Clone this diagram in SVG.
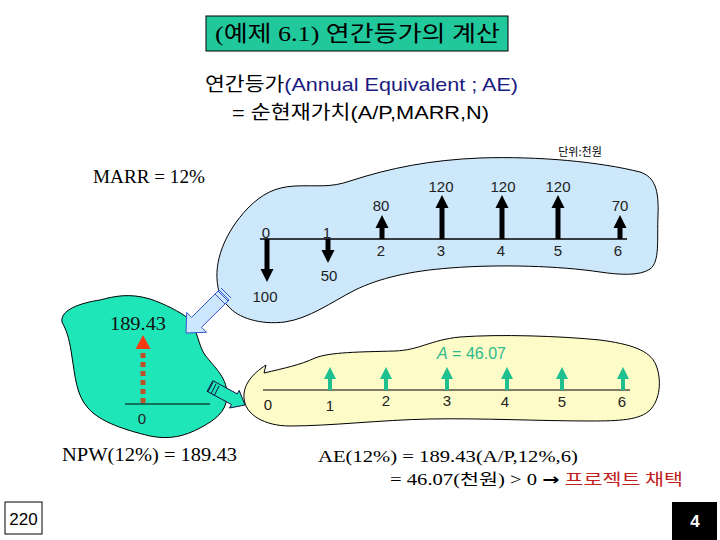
<svg xmlns="http://www.w3.org/2000/svg" width="720" height="540" viewBox="0 0 720 540">
<style>
.ser{font-family:"Liberation Serif","Noto Sans CJK KR",serif;}
.san{font-family:"Liberation Sans","Noto Sans CJK KR",sans-serif;}
.kr{font-family:"Noto Sans CJK KR",sans-serif;}
.num{font-family:"Liberation Sans","Noto Sans CJK KR",sans-serif;font-size:15px;fill:#222;text-anchor:middle;}
.blob{stroke:#000;stroke-width:1;}
.barr{fill:#000;}
.garr{fill:#1fbf8f;}
</style>
<rect width="720" height="540" fill="#fff"/>

<g id="title">
<rect x="206" y="16" width="302" height="35" fill="#20c89c" stroke="#000" stroke-width="1"/>
<text x="215" y="41" class="ser" font-size="22" textLength="285" lengthAdjust="spacingAndGlyphs" fill="#000">(예제 6.1) 연간등가의 계산</text>
</g>

<g id="subtitle">
<text x="205" y="91" font-size="19" textLength="313" lengthAdjust="spacingAndGlyphs"><tspan class="kr" fill="#000">연간등가</tspan><tspan class="san" fill="#1a1a80">(Annual Equivalent ; AE)</tspan></text>
<text x="232" y="119" font-size="19" textLength="257" lengthAdjust="spacingAndGlyphs" class="san" fill="#000">= <tspan class="kr">순현재가치</tspan>(A/P,MARR,N)</text>
</g>

<g id="unit"><text x="580" y="156" class="kr" font-size="11" text-anchor="middle" fill="#000">단위:천원</text></g>
<g id="marr"><text x="93" y="183" class="ser" font-size="18" textLength="112" lengthAdjust="spacingAndGlyphs" fill="#000">MARR = 12%</text></g>

<g id="cashflow">
<path class="blob" fill="#cde8fb" d="M218,287 C213,262 225,232 248,208 C262,194 275,187 295,186 C318,185 330,188 350,181 C390,168 430,160 480,158 C540,156 600,162 640,172 C655,177 659,190 658,215 C657,240 660,262 650,269 C640,276 620,275 600,272 C560,266 500,264 450,268 C410,271 380,278 355,290 C330,303 310,318 285,322 C260,325 238,318 228,306 C222,300 219,294 218,287 Z"/>
<line x1="260" y1="239" x2="627" y2="239" stroke="#000" stroke-width="1.5"/>
<rect class="barr" x="264.5" y="239" width="5" height="31"/><polygon class="barr" points="260.5,269 273.5,269 267,282"/>
<rect class="barr" x="325.5" y="239" width="5" height="12"/><polygon class="barr" points="321.5,250 334.5,250 328,263"/>
<rect class="barr" x="379.5" y="227" width="5" height="12"/><polygon class="barr" points="375.5,228 388.5,228 382,215"/>
<rect class="barr" x="439.5" y="207" width="5" height="32"/><polygon class="barr" points="435.5,208 448.5,208 442,195"/>
<rect class="barr" x="499.5" y="207" width="5" height="32"/><polygon class="barr" points="495.5,208 508.5,208 502,195"/>
<rect class="barr" x="555.5" y="207" width="5" height="32"/><polygon class="barr" points="551.5,208 564.5,208 558,195"/>
<rect class="barr" x="617.5" y="227" width="5" height="12"/><polygon class="barr" points="613.5,228 626.5,228 620,215"/>
<text class="num" x="266" y="238">0</text>
<text class="num" x="327" y="238">1</text>
<text class="num" x="381" y="256">2</text>
<text class="num" x="441" y="256">3</text>
<text class="num" x="501" y="256">4</text>
<text class="num" x="558" y="256">5</text>
<text class="num" x="618" y="256">6</text>
<text class="num" x="265" y="302">100</text>
<text class="num" x="329" y="281">50</text>
<text class="num" x="381" y="211">80</text>
<text class="num" x="441" y="192">120</text>
<text class="num" x="503" y="192">120</text>
<text class="num" x="558" y="192">120</text>
<text class="num" x="620" y="211">70</text>
</g>

<g id="npw">
<path class="blob" fill="#1ee6b8" d="M62,322 C60,310 80,303 100,300 C115,296 130,293 150,299 C165,304 180,312 188,318 C198,330 198,345 205,355 C215,368 228,378 227,397 C226,412 215,420 200,428 C185,436 170,440 150,436 C125,430 100,422 88,408 C76,395 75,375 72,357 C70,343 68,333 62,322 Z"/>
<line x1="125" y1="404" x2="210" y2="404" stroke="#000" stroke-width="1"/>
<line x1="143" y1="403" x2="143" y2="349" stroke="#c0502a" stroke-width="5" stroke-dasharray="5,4"/>
<polygon points="135.5,349 150.5,349 143,335" fill="#f53a10"/>
<text class="ser" x="110" y="330" font-size="19" textLength="56" lengthAdjust="spacingAndGlyphs" fill="#111">189.43</text>
<text class="num" x="142" y="424">0</text>
</g>

<g id="annual">
<path class="blob" fill="#fdfbc8" d="M264,373 C285,368 300,365 315,358 C330,352 360,352 395,351 C420,350 430,340 460,337 C500,334 560,336 600,340 C630,344 650,350 656,365 C662,380 660,400 650,410 C640,420 620,421 590,421 C540,421 480,418 430,419 C380,420 330,426 290,426 C265,426 245,415 244,398 C243,385 252,374 266,365 Z"/>
<line x1="263" y1="390" x2="630" y2="390" stroke="#000" stroke-width="1.2"/>
<rect class="garr" x="328" y="378" width="4" height="12"/><polygon class="garr" points="324,379 336,379 330,367"/>
<rect class="garr" x="384" y="378" width="4" height="12"/><polygon class="garr" points="380,379 392,379 386,367"/>
<rect class="garr" x="445" y="378" width="4" height="12"/><polygon class="garr" points="441,379 453,379 447,367"/>
<rect class="garr" x="505" y="378" width="4" height="12"/><polygon class="garr" points="501,379 513,379 507,367"/>
<rect class="garr" x="560" y="378" width="4" height="12"/><polygon class="garr" points="556,379 568,379 562,367"/>
<rect class="garr" x="621" y="378" width="4" height="12"/><polygon class="garr" points="617,379 629,379 623,367"/>
<text class="num" x="268" y="410">0</text>
<text class="num" x="330" y="411">1</text>
<text class="num" x="386" y="406">2</text>
<text class="num" x="447" y="406">3</text>
<text class="num" x="505" y="407">4</text>
<text class="num" x="562" y="407">5</text>
<text class="num" x="622" y="407">6</text>
<text x="437" y="359" class="san" font-size="16" fill="#2db98a"><tspan font-style="italic">A</tspan> = 46.07</text>
</g>

<g id="connectors">
<polygon points="219,290 229,300 201.5,327.3 206.5,332.3 186,333 186.7,312.5 191.6,317.4" fill="#cce6ff" stroke="#3355cc" stroke-width="1"/>
<g stroke="#3355cc" stroke-width="1">
<line x1="215" y1="294" x2="225" y2="304"/>
<line x1="218" y1="291" x2="228" y2="301"/>
<line x1="221" y1="288" x2="231" y2="298"/>
</g>
<polygon points="212.9,380.7 207.1,391.3 231.5,404.5 229.6,408 245,405 239.2,390.4 237.3,393.9" fill="#1ee6b8" stroke="#114" stroke-width="1"/>
<g stroke="#114" stroke-width="1">
<line x1="213" y1="382" x2="208" y2="392"/>
<line x1="216" y1="384" x2="211" y2="394"/>
<line x1="219" y1="386" x2="214" y2="396"/>
</g>
</g>

<g id="formulas">
<text x="62" y="461" class="ser" font-size="18" textLength="175" lengthAdjust="spacingAndGlyphs" fill="#000">NPW(12%) = 189.43</text>
<text x="318" y="462" class="ser" font-size="17" textLength="260" lengthAdjust="spacingAndGlyphs" fill="#000">AE(12%) = 189.43(A/P,12%,6)</text>
<text x="390" y="485" class="ser" font-size="16" textLength="293" lengthAdjust="spacingAndGlyphs" fill="#000">= 46.07(<tspan class="kr">천원</tspan>) &gt; 0 <tspan font-family="DejaVu Sans, sans-serif" font-weight="bold">→</tspan> <tspan class="kr" fill="#c02020">프로젝트 채택</tspan></text>
</g>

<g id="page">
<rect x="5" y="502" width="37" height="32" fill="#fff" stroke="#000" stroke-width="1"/>
<text x="23.5" y="525" class="san" font-size="17" text-anchor="middle" fill="#000">220</text>
<rect x="672" y="502" width="45" height="38" fill="#000"/>
<text x="695" y="527" class="san" font-size="17" font-weight="bold" text-anchor="middle" fill="#fff">4</text>
</g>
</svg>
